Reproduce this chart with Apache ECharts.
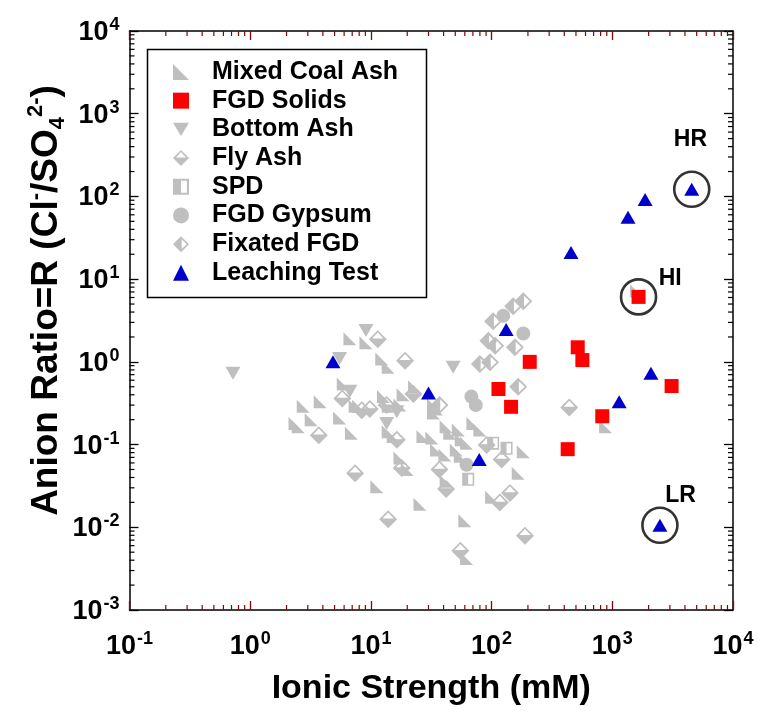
<!DOCTYPE html>
<html>
<head>
<meta charset="utf-8">
<script src="https://cdn.jsdelivr.net/npm/echarts@6/dist/echarts.min.js"></script>
<style>
  html, body { margin: 0; padding: 0; background: #ffffff; }
  #chart { width: 758px; height: 711px; }
</style>
</head>
<body>
<div id="chart"></div>
<script>
// Ionic strength (mM) vs. anion ratio R = Cl- / SO4 2-, per leachate type.
const mixedCoalAsh = [
  [6.7, 1.9], [9.1, 1.7], [12.3, 1.08], [13.9, 0.86], [5.9, 0.54], [3.8, 0.33],
  [2.75, 0.29], [7.4, 0.29], [12.7, 0.38], [13.9, 0.29], [3.2, 0.2], [5.5, 0.21],
  [2.35, 0.18], [18.5, 0.4], [23, 0.5], [33, 0.3], [17.4, 0.3], [35, 0.27],
  [33, 0.24], [27, 0.125], [32, 0.12], [42, 0.164], [45, 0.137], [53, 0.15],
  [56, 0.114], [62, 0.104], [70, 0.18], [80, 0.15], [35, 0.086], [41, 0.075],
  [51, 0.086], [55, 0.072], [183, 0.082], [166, 0.045], [100, 0.023], [42, 0.036],
  [60, 0.012], [62, 0.0042], [25.5, 0.019], [11.2, 0.031], [17.4, 0.069], [20, 0.05],
  [13.9, 0.143], [15.3, 0.125], [6.9, 0.137], [2.5, 0.164], [880, 0.164], [1590, 7.2],
  [7.9, 0.29]
];
const fgdSolids = [
  [1650, 6.1], [517, 1.5], [565, 1.05], [3100, 0.51], [826, 0.22], [427, 0.088],
  [207, 1.0], [114, 0.47], [145, 0.286]
];
const bottomAsh = [
  [0.72, 0.73], [5.5, 1.1], [9.1, 2.4], [6.7, 0.44], [16.4, 0.25], [48, 0.86], [13.5, 0.18]
];
const flyAsh = [
  [11.4, 1.88], [19.2, 1.03], [5.8, 0.36], [8.4, 0.26], [9.8, 0.27], [13.5, 0.3],
  [3.7, 0.13], [22.5, 0.41], [16.4, 0.114], [7.4, 0.045], [13.9, 0.0125], [18, 0.052],
  [37, 0.05], [42, 0.029], [121, 0.066], [142, 0.026], [117, 0.02], [189, 0.0079],
  [55, 0.0052], [440, 0.28], [91, 0.099]
];
const spd = [[103, 0.104], [133, 0.09], [64, 0.038]];
const fgdGypsum = [[125, 3.6], [183, 2.2], [68, 0.38], [74, 0.3], [62, 0.057]];
const fixatedFgd = [
  [183, 5.4], [151, 4.7], [103, 3.1], [94, 1.8], [107, 1.57], [156, 1.5],
  [80, 0.94], [97, 0.99], [166, 0.5], [37, 0.3]
];
const leachingTest = [
  [4.85, 1.0], [30, 0.42], [79, 0.066], [132, 2.46], [455, 21], [1350, 56],
  [1870, 92], [4550, 122], [2090, 0.73], [1140, 0.33], [2480, 0.0106]
];
// Highlighted samples: high ratio, high ionic strength, low ratio.
const calloutNames = ['HR', 'HI', 'LR'];
const calloutPoints = [[4550, 122], [1650, 6.1], [2480, 0.0106]];

const seriesNames = ['Mixed Coal Ash', 'FGD Solids', 'Bottom Ash', 'Fly Ash', 'SPD',
  'FGD Gypsum', 'Fixated FGD', 'Leaching Test'];

const X_MIN = 0.1, X_MAX = 10000, Y_MIN = 0.001, Y_MAX = 10000;
const GRAY = '#bfbfbf';
const FONT = 'Liberation Sans, Arial, sans-serif';

// Half-filled marker shapes (holes cut with opposite winding).
const SYM_RIGHT_TRI = 'path://M0,0 L0,10 L10,10 Z';
const SYM_DOWN_TRI = 'path://M0,0 L12,0 L6,10 Z';
const SYM_FLY = 'path://M5,0 L10,5 L5,10 L0,5 Z M5,1.25 L1.9,4.6 L8.1,4.6 Z';
const SYM_FIX = 'path://M5,0 L10,5 L5,10 L0,5 Z M5.4,1.9 L5.4,8.1 L8.6,5 Z';
const SYM_SPD = 'path://M0,0 L10,0 L10,10 L0,10 Z M5,1.3 L5,8.7 L8.7,8.7 L8.7,1.3 Z';

// Minor tick positions (2..9 within each decade).
function minorValues(lo, hi) {
  const out = [];
  for (let e = Math.round(Math.log10(lo)); e < Math.round(Math.log10(hi)); e++) {
    for (let m = 2; m <= 9; m++) out.push(m * Math.pow(10, e));
  }
  return out;
}
const minorX = minorValues(X_MIN, X_MAX);
const minorY = minorValues(Y_MIN, Y_MAX);

function powLabel(v) {
  const e = Math.round(Math.log10(v));
  return '{b|10}{s|' + e + '}';
}
const tickRich = {
  b: { fontFamily: FONT, fontWeight: 'bold', fontSize: 27, color: '#000', lineHeight: 30, verticalAlign: 'bottom' },
  s: { fontFamily: FONT, fontWeight: 'bold', fontSize: 18, color: '#000', lineHeight: 30, verticalAlign: 'top', padding: [0, 0, 12, 1] }
};

function scatter(name, data, symbol, size, color, extra) {
  return Object.assign({
    name: name, type: 'scatter', data: data, symbol: symbol, symbolSize: size,
    itemStyle: { color: color, opacity: 1 }, emphasis: { disabled: true }, silent: true
  }, extra || {});
}

const chart = echarts.init(document.getElementById('chart'), null, { renderer: 'canvas' });

const axisLine = { show: true, onZero: false, lineStyle: { color: '#000', width: 1.5 } };

// Callout label anchors, relative to the 35px ring's box.
const CALLOUT_SIZE = 35;
const calloutLabelPos = [[17.5, -30.5], [50.5, 0.5], [39.5, -10.5]];

const option = {
  animation: false,
  backgroundColor: '#ffffff',
  grid: { left: 129.5, right: 25, top: 31, bottom: 96, containLabel: false },
  xAxis: [
    {
      type: 'log', logBase: 10, min: X_MIN, max: X_MAX, splitNumber: 5, position: 'bottom',
      axisLine: axisLine,
      axisTick: { inside: true, length: 9, lineStyle: { color: '#8b0000', width: 1.3 } },
      axisLabel: { formatter: powLabel, rich: tickRich, margin: 20 },
      splitLine: { show: false },
      name: 'Ionic Strength (mM)', nameLocation: 'middle', nameGap: 62,
      nameTextStyle: { fontFamily: FONT, fontWeight: 'bold', fontSize: 34, color: '#000' }
    },
    {
      type: 'log', logBase: 10, min: X_MIN, max: X_MAX, splitNumber: 5, position: 'top',
      axisLine: axisLine,
      axisTick: { inside: true, length: 9, lineStyle: { color: '#8b0000', width: 1.3 } },
      axisLabel: { show: false }, splitLine: { show: false }
    }
  ],
  yAxis: [
    {
      type: 'log', logBase: 10, min: Y_MIN, max: Y_MAX, splitNumber: 7, position: 'left',
      axisLine: axisLine,
      axisTick: { inside: true, length: 9, lineStyle: { color: '#000', width: 1.3 } },
      axisLabel: { formatter: powLabel, rich: tickRich, margin: 10 },
      splitLine: { show: false },
      name: '{t|Anion Ratio=R (Cl}{sp|-}{t|/SO}{sb|4}{sp|2-}{t|)}',
      nameLocation: 'middle', nameGap: 61, nameRotate: 90, nameMoveOverlap: false,
      nameTextStyle: {
        padding: [0, 0, 0, 40],
        rich: {
          t: { fontFamily: FONT, fontWeight: 'bold', fontSize: 37, color: '#000', lineHeight: 44, verticalAlign: 'middle' },
          sp: { fontFamily: FONT, fontWeight: 'bold', fontSize: 22, color: '#000', lineHeight: 44, verticalAlign: 'top' },
          sb: { fontFamily: FONT, fontWeight: 'bold', fontSize: 22, color: '#000', lineHeight: 44, verticalAlign: 'bottom' }
        }
      }
    },
    {
      type: 'log', logBase: 10, min: Y_MIN, max: Y_MAX, splitNumber: 7, position: 'right',
      axisLine: axisLine,
      axisTick: { inside: true, length: 9, lineStyle: { color: '#000', width: 1.3 } },
      axisLabel: { show: false }, splitLine: { show: false }
    }
  ],
  legend: {
    orient: 'vertical', left: 173, top: 57.6, padding: 0, itemGap: 0,
    itemWidth: 16, itemHeight: 16,
    data: seriesNames,
    selectedMode: false,
    textStyle: { fontFamily: FONT, fontWeight: 'bold', fontSize: 25, color: '#000', lineHeight: 28.7, padding: [0, 0, 0, 18] }
  },
  graphic: [
    { type: 'rect', left: 145, top: 47, shape: { width: 279, height: 248 },
      style: { fill: null, stroke: '#000', lineWidth: 1.5 }, silent: true, z: 10 }
  ],
  series: [
    // minor ticks on the top and bottom frame
    {
      type: 'custom', silent: true, clip: false, z: 5,
      data: minorX.map(v => [v, Y_MIN]),
      renderItem: function (params, api) {
        const v = api.value(0);
        const b = api.coord([v, Y_MIN]);
        const t = api.coord([v, Y_MAX]);
        const st = { stroke: '#8b0000', lineWidth: 1.2 };
        return { type: 'group', children: [
          { type: 'line', shape: { x1: b[0], y1: b[1], x2: b[0], y2: b[1] - 5 }, style: st },
          { type: 'line', shape: { x1: t[0], y1: t[1], x2: t[0], y2: t[1] + 5 }, style: st }
        ] };
      }
    },
    // minor ticks on the left and right frame
    {
      type: 'custom', silent: true, clip: false, z: 5,
      data: minorY.map(v => [X_MIN, v]),
      renderItem: function (params, api) {
        const v = api.value(1);
        const l = api.coord([X_MIN, v]);
        const r = api.coord([X_MAX, v]);
        const st = { stroke: '#000', lineWidth: 1.2 };
        return { type: 'group', children: [
          { type: 'line', shape: { x1: l[0], y1: l[1], x2: l[0] + 5, y2: l[1] }, style: st },
          { type: 'line', shape: { x1: r[0], y1: r[1], x2: r[0] - 5, y2: r[1] }, style: st }
        ] };
      }
    },
    scatter('Mixed Coal Ash', mixedCoalAsh, SYM_RIGHT_TRI, 13, GRAY),
    scatter('Bottom Ash', bottomAsh, SYM_DOWN_TRI, [15, 13], GRAY),
    scatter('Fly Ash', flyAsh, SYM_FLY, 18, GRAY),
    scatter('SPD', spd, SYM_SPD, [12, 13], GRAY),
    scatter('FGD Gypsum', fgdGypsum, 'circle', 14, GRAY),
    scatter('Fixated FGD', fixatedFgd, SYM_FIX, 18, GRAY),
    scatter('FGD Solids', fgdSolids, 'rect', 14, '#ff0000'),
    scatter('Leaching Test', leachingTest, 'triangle', [15, 13], '#0000cc'),
    {
      name: 'callouts', type: 'scatter', silent: true, z: 6,
      symbol: 'circle', symbolSize: CALLOUT_SIZE,
      itemStyle: { color: 'rgba(0,0,0,0)', borderColor: '#000', borderWidth: 2.6 },
      data: calloutNames.map((n, i) => ({
        name: n, value: calloutPoints[i],
        label: { position: calloutLabelPos[i] }
      })),
      label: {
        show: true, formatter: '{b}', align: 'center', verticalAlign: 'middle',
        fontFamily: FONT, fontWeight: 'bold', fontSize: 23, color: '#000000', opacity: 1
      }
    }
  ]
};

chart.setOption(option);
</script>
</body>
</html>
